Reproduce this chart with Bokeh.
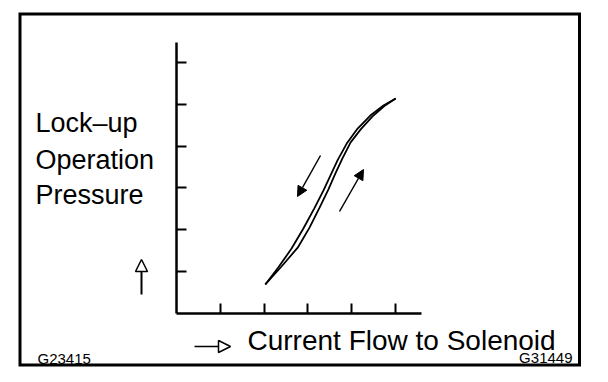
from bokeh.plotting import figure
from bokeh.models import Range1d, FixedTicker, Label, Arrow, NormalHead, PolyAnnotation
from bokeh.embed import file_html
from bokeh.resources import INLINE

# ---- data ----
x_ticks = [1, 2, 3, 4, 5]
y_ticks = [1, 2, 3, 4, 5, 6]

# increasing current (lower / right branch)
current_up = [2.03, 2.40, 2.77, 3.04, 3.27, 3.47, 3.63, 3.79, 3.98, 4.21, 4.48, 4.75, 5.01]
pressure_up = [0.69, 1.12, 1.57, 2.05, 2.53, 2.96, 3.34, 3.70, 4.09, 4.40, 4.71, 4.96, 5.14]

# decreasing current (upper / left branch)
current_down = [2.03, 2.33, 2.63, 2.90, 3.15, 3.36, 3.52, 3.68, 3.89, 4.14, 4.43, 4.73, 5.01]
pressure_down = [0.69, 1.10, 1.55, 2.03, 2.51, 2.94, 3.30, 3.66, 4.06, 4.42, 4.73, 4.97, 5.14]

y_label_lines = ["Lock\u2013up", "Operation", "Pressure"]
x_label = "Current Flow to Solenoid"
code_left = "G23415"
code_right = "G31449"

# ---- layout (picture pixels) ----
W, H = 600, 372
AX0, AY0 = 176, 312.8      # pixel position of data origin
XPU, YPU = 43.75, 41.8     # pixels per data unit
AXIS_RIGHT, AXIS_TOP = 421, 42


def X(px):
    return (px - AX0) / XPU


def Y(py):
    return (AY0 - py) / YPU


FONT = "Liberation Sans"

p = figure(width=W, height=H, output_backend="svg", toolbar_location=None,
           x_range=Range1d(X(0), X(W)), y_range=Range1d(Y(H), Y(0)),
           min_border=0)
p.outline_line_color = None
p.grid.visible = False
p.background_fill_color = "white"
p.border_fill_color = "white"

p.xaxis.ticker = FixedTicker(ticks=x_ticks)
p.yaxis.ticker = FixedTicker(ticks=y_ticks)
p.xaxis.fixed_location = 0
p.yaxis.fixed_location = 0
p.xaxis.bounds = (0, X(AXIS_RIGHT))
p.yaxis.bounds = (0, Y(AXIS_TOP))
p.xaxis.major_label_overrides = {t: "" for t in x_ticks}
p.yaxis.major_label_overrides = {t: "" for t in y_ticks}
for ax in (p.xaxis, p.yaxis):
    ax.axis_line_width = 2.5
    ax.axis_line_color = "black"
    ax.major_tick_line_width = 2
    ax.major_tick_line_color = "black"
    ax.major_tick_in = 10
    ax.major_tick_out = 0
    ax.minor_tick_in = 0
    ax.minor_tick_out = 0
    ax.major_label_text_font_size = "0px"
    ax.major_label_standoff = 0

# curves
p.line(current_down, pressure_down, line_color="black", line_width=1.8)
p.line(current_up, pressure_up, line_color="black", line_width=1.8)

# direction arrows inside plot
p.add_layout(Arrow(end=NormalHead(size=10, fill_color="black", line_color="black"),
                   x_start=X(320), y_start=Y(155), x_end=X(297), y_end=Y(196),
                   line_width=1.5, line_color="black"))
p.add_layout(Arrow(end=NormalHead(size=10, fill_color="black", line_color="black"),
                   x_start=X(339), y_start=Y(211), x_end=X(363), y_end=Y(169),
                   line_width=1.5, line_color="black"))

# axis direction arrows outside
p.add_layout(Arrow(end=NormalHead(size=12, fill_color="white", line_color="black", line_width=1.5),
                   x_start=X(141), y_start=Y(294), x_end=X(141), y_end=Y(259),
                   line_width=2, line_color="black"))
p.add_layout(Arrow(end=NormalHead(size=12, fill_color="white", line_color="black", line_width=1.5),
                   x_start=X(194), y_start=Y(346), x_end=X(230), y_end=Y(346),
                   line_width=1.5, line_color="black"))

# outer border
p.add_layout(PolyAnnotation(xs=[X(19.5), X(579), X(579), X(19.5)],
                            ys=[Y(13.5), Y(13.5), Y(364.5), Y(364.5)],
                            fill_color=None, fill_alpha=0, line_color="black",
                            line_alpha=1.0, line_width=3, line_join="miter"))

# texts
for txt, base in zip(y_label_lines, [122, 159, 194]):
    p.add_layout(Label(x=X(35), y=Y(base), text=txt, text_font=FONT,
                       text_font_size="27px", text_color="black",
                       text_baseline="alphabetic", text_align="left"))
p.add_layout(Label(x=X(247), y=Y(340), text=x_label, text_font=FONT,
                   text_font_size="28px", text_color="black",
                   text_baseline="alphabetic", text_align="left"))
p.add_layout(Label(x=X(37), y=Y(358), text=code_left, text_font=FONT,
                   text_font_size="15px", text_color="black",
                   text_baseline="alphabetic", text_align="left"))
p.add_layout(Label(x=X(572), y=Y(357), text=code_right, text_font=FONT,
                   text_font_size="15px", text_color="black",
                   text_baseline="alphabetic", text_align="right"))

open("out.html", "w").write(file_html(p, INLINE))
